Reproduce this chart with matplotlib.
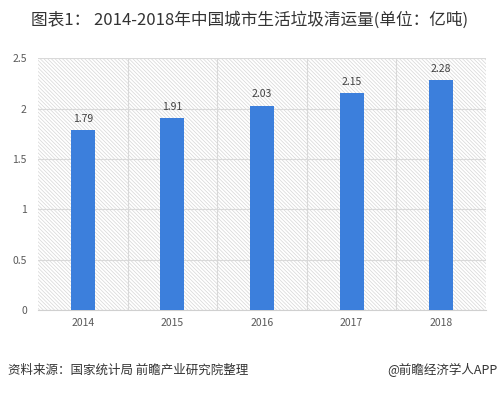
import matplotlib.pyplot as plt
from matplotlib.patches import Rectangle
import matplotlib as mpl

plt.rcParams['font.family'] = ['Noto Sans CJK SC', 'DejaVu Sans']
mpl.rcParams['hatch.color'] = '#d6d6d6'
mpl.rcParams['hatch.linewidth'] = 0.5

years = ['2014', '2015', '2016', '2017', '2018']
values = [1.79, 1.91, 2.03, 2.15, 2.28]
labels = ['1.79', '1.91', '2.03', '2.15', '2.28']
yticks = [0, 0.5, 1, 1.5, 2, 2.5]
ytick_labels = ['0', '0.5', '1', '1.5', '2', '2.5']

fig = plt.figure(figsize=(5, 3.93), dpi=100)
ax = fig.add_axes([0.076, 0.211, 0.896, 0.641])

# hatched background
bg = Rectangle((0, 0), 1, 1, transform=ax.transAxes, facecolor='white',
               edgecolor='#d6d6d6', hatch='\\' * 9, linewidth=0, zorder=0)
ax.add_patch(bg)

x = range(len(years))
ax.bar(x, values, width=0.27, color='#3c7fdc', zorder=3)
for xi, v, t in zip(x, values, labels):
    ax.text(xi, v + 0.06, t, ha='center', va='bottom', fontsize=7.5, color='#404040', zorder=4)

ax.set_xlim(-0.5, len(years) - 0.5)
ax.set_ylim(0, 2.5)
ax.set_yticks(yticks)
ax.set_yticklabels(ytick_labels)
ax.set_xticks(list(x))
ax.set_xticklabels(years)
ax.set_xticks([i + 0.5 for i in range(len(years) - 1)], minor=True)
ax.tick_params(axis='both', which='both', length=0, labelsize=7.5, colors='#595959')
ax.tick_params(axis='x', pad=6)
ax.tick_params(axis='y', pad=8)
ax.grid(True, axis='y', color='#d9d9d9', linewidth=0.8, zorder=1)
ax.grid(True, axis='x', which='minor', color='#d9d9d9', linewidth=0.8, zorder=1)
ax.set_axisbelow(True)
for s in ['left', 'right', 'top']:
    ax.spines[s].set_visible(False)
ax.spines['bottom'].set_color('#d0d0d0')

fig.text(0.5, 0.948, '图表1： 2014-2018年中国城市生活垃圾清运量(单位：亿吨)',
         ha='center', va='center', fontsize=12, color='#333333')
fig.text(0.016, 0.058, '资料来源：国家统计局 前瞻产业研究院整理', ha='left', va='center',
         fontsize=9, color='#333333', style='italic')
fig.text(0.994, 0.058, '@前瞻经济学人APP', ha='right', va='center',
         fontsize=9, color='#333333')

fig.savefig('out.png', dpi=100)
